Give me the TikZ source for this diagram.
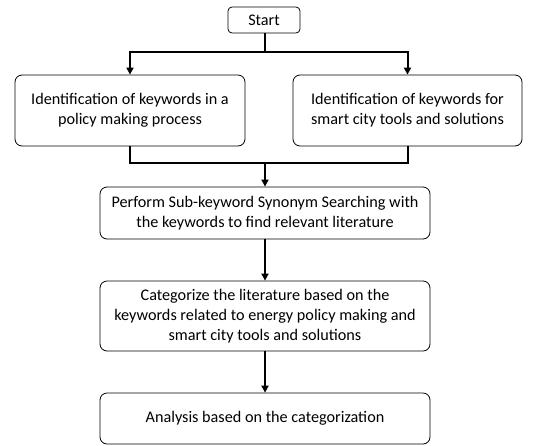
\documentclass[tikz,border=0pt]{standalone}
\usepackage{fontspec}
\setmainfont{Carlito}
\usetikzlibrary{arrows.meta}
\begin{document}
\begin{tikzpicture}[x=1pt,y=-1pt,
  box/.style={draw,rounded corners=7pt,line width=0.8pt,align=center,inner sep=0pt,font=\fontsize{16.2}{20}\selectfont},
  link/.style={line width=2pt},
  arr/.style={line width=2pt,-{Triangle[width=7pt,length=7pt]}}]
\useasboundingbox (0,0) rectangle (543,445);
\node[box,minimum width=72pt,minimum height=26pt,rounded corners=4pt] (start) at (264,20) {Start};
\node[box,minimum width=230pt,minimum height=71pt] (left) at (130,110.5) {Identification of keywords in a\\policy making process};
\node[box,minimum width=229pt,minimum height=71pt] (right) at (407.5,110.5) {Identification of keywords for\\smart city tools and solutions};
\node[box,minimum width=330pt,minimum height=52pt] (search) at (265,213) {Perform Sub-keyword Synonym Searching with\\the keywords to find relevant literature};
\node[box,minimum width=330pt,minimum height=70pt] (cat) at (265,316) {Categorize the literature based on the\\keywords related to energy policy making and\\smart city tools and solutions};
\node[box,minimum width=330pt,minimum height=51pt] (ana) at (265,418.5) {Analysis based on the categorization};
\coordinate (split) at (265,52);
\coordinate (join) at (265,163);
\draw[link] (start.south -| split) -- (split);
\draw[arr] (split) -| (left.north);
\draw[arr] (split) -| (right.north);
\draw[link] (left.south) |- (join);
\draw[link] (right.south) |- (join);
\draw[arr] (join) -- (search.north);
\draw[arr] (search.south) -- (cat.north);
\draw[arr] (cat.south) -- (ana.north);
\end{tikzpicture}
\end{document}
